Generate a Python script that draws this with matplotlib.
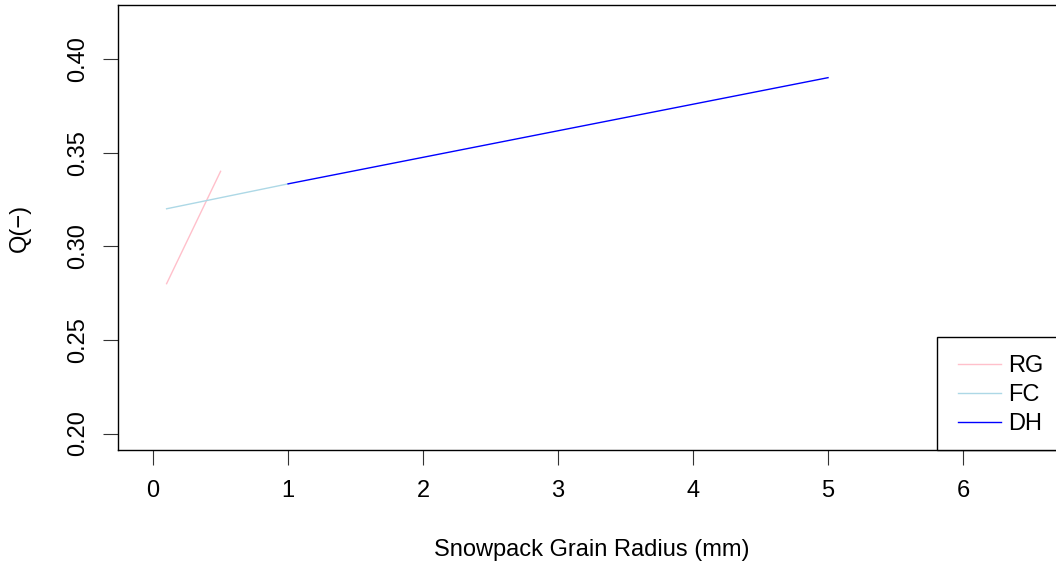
import matplotlib
matplotlib.use("Agg")
import matplotlib.pyplot as plt
from matplotlib.patches import Rectangle

plt.rcParams['font.family'] = ['Liberation Sans', 'DejaVu Sans']

rg_x = [0.1, 0.5]
rg_y = [0.28, 0.34]
fc_x = [0.1, 1.0]
fc_y = [0.32, 0.3333]
dh_x = [1.0, 5.0]
dh_y = [0.3333, 0.39]
series_names = ["RG", "FC", "DH"]
series_colors = ["pink", "lightblue", "blue"]
x_ticks = [0, 1, 2, 3, 4, 5, 6]
y_ticks = [0.20, 0.25, 0.30, 0.35, 0.40]

W, H = 1056, 563
fig = plt.figure(figsize=(W / 100, H / 100), dpi=100)
xlim = (-0.26, 6.76)
left = 118
right = 153 + 6.76 * 135
top, bottom = 5, 450
ax = fig.add_axes([left / W, 1 - bottom / H, (right - left) / W, (bottom - top) / H])
ax.set_xlim(*xlim)
ax.set_ylim(0.2 - 0.0088, 0.42 + 0.0088)

lw = 1.0
ax.plot(rg_x, rg_y, color=series_colors[0], lw=lw, label=series_names[0])
ax.plot(fc_x, fc_y, color=series_colors[1], lw=lw, label=series_names[1])
ax.plot(dh_x, dh_y, color=series_colors[2], lw=lw, label=series_names[2])

fs = 17
ax.set_xticks(x_ticks)
ax.set_xticklabels([str(v) for v in x_ticks])
ax.set_yticks(y_ticks)
ax.set_yticklabels([f"{v:.2f}" for v in y_ticks], rotation=90, va='center')
ax.tick_params(axis='both', length=10.5, width=0.8, labelsize=fs, color='#333333')
ax.tick_params(axis='x', pad=11)
ax.tick_params(axis='y', pad=10)
for s in ax.spines.values():
    s.set_linewidth(1.0)
    s.set_color('black')

ax.set_xlabel("Snowpack Grain Radius (mm)", fontsize=fs, labelpad=27)
ax.set_ylabel("Q(−)", fontsize=fs, labelpad=26.5)

# legend frame (from 937,337 down to axis bottom, running past the right edge)
frame = Rectangle((937 / W, 1 - 450 / H), 200 / W, (450 - 337) / H,
                  transform=fig.transFigure, facecolor='white', edgecolor='black',
                  linewidth=1.0, zorder=5)
fig.patches.append(frame)

leg = fig.legend(*ax.get_legend_handles_labels(), loc='upper left',
                 bbox_to_anchor=(958 / W, 1 - 355.5 / H), fontsize=fs,
                 frameon=False, handlelength=43 / (fs * 100 / 72),
                 handletextpad=7 / (fs * 100 / 72), borderpad=0,
                 labelspacing=0.29, borderaxespad=0)
leg.set_zorder(6)

fig.savefig("out.png", dpi=100)
